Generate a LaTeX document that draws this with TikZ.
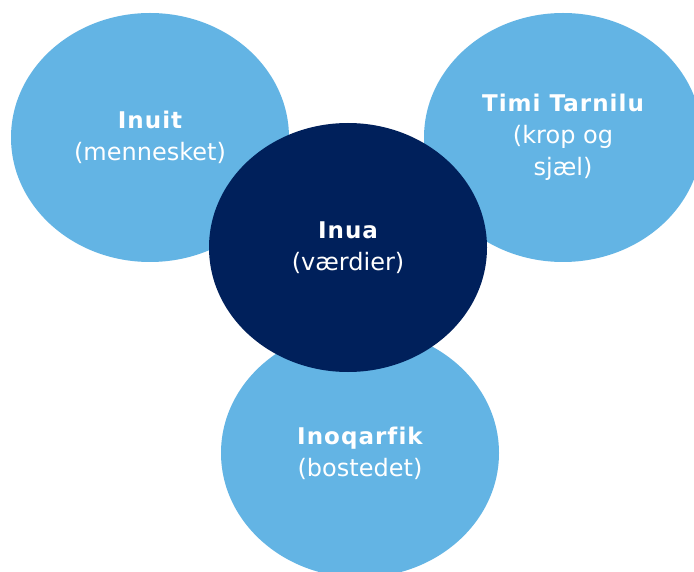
\documentclass[tikz,border=0pt]{standalone}
\usepackage{fontspec}
\setmainfont{DejaVu Sans}[Ligatures=NoCommon]
\usetikzlibrary{shapes.geometric}
\definecolor{lightblue}{HTML}{63B4E4}
\definecolor{navy}{HTML}{00205B}
\tikzset{
  bubble/.style={ellipse, inner sep=0pt, minimum width=278pt, minimum height=249pt,
    fill=lightblue, text=white, align=center,
    font=\fontsize{24}{32}\selectfont},
  core/.style={bubble, fill=navy},
}
\newcommand{\ttl}[1]{{\fontsize{23}{32}\selectfont\bfseries\addfontfeatures{LetterSpace=4.5}#1}}
\begin{document}
\begin{tikzpicture}[x=1pt,y=-1pt]
\useasboundingbox (0,0) rectangle (694,572);
\clip (0,0) rectangle (694,572);
\fill[white] (0,0) rectangle (694,572);
\node[bubble] (inuit) at (150,137.5) {\ttl{Inuit}\\(mennesket)};
\node[bubble] (timi) at (563,137.5) {\ttl{Timi Tarnilu}\\(krop og\\sjæl)};
\node[bubble] (inoq) at (360,453) {\ttl{Inoqarfik}\\(bostedet)};
\node[core] (inua) at (348,247.5) {\ttl{Inua}\\(værdier)};
\end{tikzpicture}
\end{document}
